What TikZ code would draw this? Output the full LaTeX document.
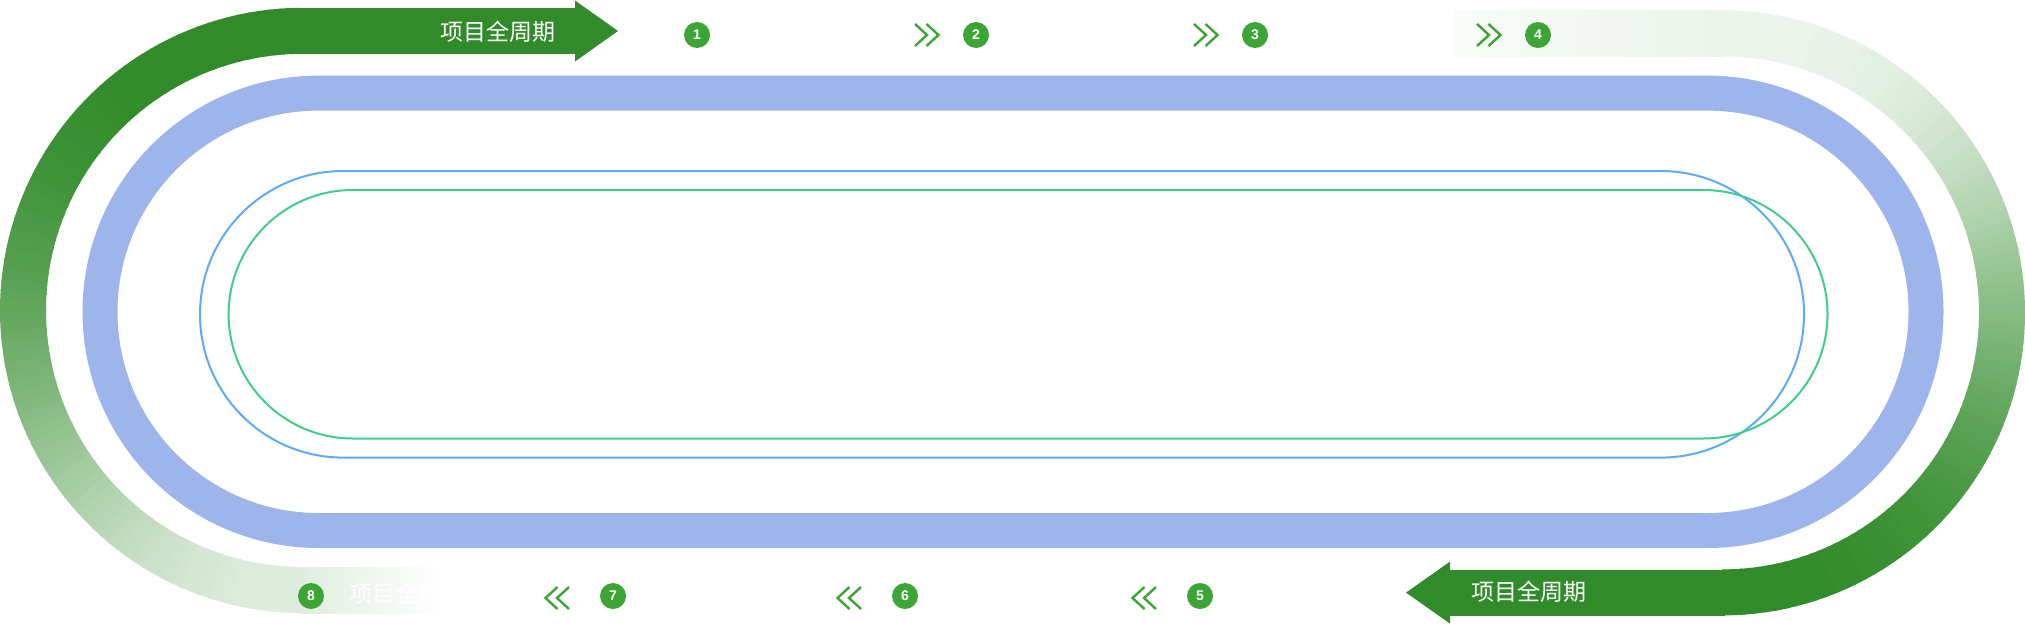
\documentclass[tikz,border=0pt]{standalone}
\usepackage{fontspec}
\setsansfont{Liberation Sans}
\newfontfamily\cjk{Noto Sans CJK SC}
\usetikzlibrary{positioning,calc}

\definecolor{gdark}{HTML}{318B2A}
\definecolor{gdot}{HTML}{3DA535}
\definecolor{bandblue}{HTML}{9DB5EA}
\definecolor{lineblue}{HTML}{5BABF5}
\definecolor{linegreen}{HTML}{41CC8B}

\tikzset{
  numdot/.style={circle, fill=gdot, text=white, inner sep=0pt, minimum size=26pt,
    font=\sffamily\bfseries\fontsize{14}{14}\selectfont},
  cyclelabel/.style={text=white, inner sep=0pt, font=\cjk\fontsize{23}{23}\selectfont},
  chev/.style={draw=gdot, line width=2.4pt},
  greenband/.style={line width=46pt},
}

\begin{document}
\begin{tikzpicture}[x=1pt,y=-1pt]
\useasboundingbox (0,0) rectangle (2025,624);

% blue track and the two thin loops
\draw[bandblue, line width=35pt, rounded corners=218.7pt] (100,93.1) rectangle (1926,530.5);
\draw[lineblue, line width=2pt, rounded corners=143.3pt] (200,171) rectangle (1804,457.6);
\draw[linegreen, line width=2pt, rounded corners=124.2pt] (228.6,190) rectangle (1827.5,438.5);

% left green band, solid at the top, fading out at the bottom
\fill[gdark] (300,7.8) rectangle (575,53.8);
\fill[gdark] (575,0.5) -- (618,31) -- (575,61.5) -- cycle;
\shade[left color=white!85!gdark, right color=white] (300,567) rectangle (445,613);
\foreach \s in {0,2,...,178} {
  \pgfmathtruncatemacro\w{85*((1-cos(\s+1))/2)^1.8}
  \draw[greenband, white!\w!gdark] (302.6,310.4) ++(270-\s:279.6)
    arc[start angle=270-\s, end angle=267.6-\s, radius=279.6];
}

% right green band, fading in at the top, solid at the bottom
\shade[left color=white!97!gdark, right color=white!90!gdark] (1453,10.2) rectangle (1725,56.2);
\fill[gdark] (1450,569.6) rectangle (1725,615.6);
\fill[gdark] (1450,561.6) -- (1406,592.6) -- (1450,623.6) -- cycle;
\foreach \s in {0,2,...,178} {
  \pgfmathtruncatemacro\w{90*((1-cos(min(\s+19,180)))/2)^1.8}
  \draw[greenband, white!\w!gdark] (1722.4,312.8) ++(90-\s:279.6)
    arc[start angle=90-\s, end angle=87.6-\s, radius=279.6];
}

% labels on the arrows
\node[cyclelabel] (lblTop) at (497.5,31.5) {项目全周期};
\node[cyclelabel] (lblRight) at (1529,592) {项目全周期};
\node[cyclelabel] (lblLeft) at (407,594) {项目全周期};

% numbered steps
\foreach \n/\x/\y in {1/697/35, 2/976/35, 3/1255/35, 4/1538/35,
                      5/1200/596, 6/905/596, 7/613/596, 8/311/596}
  \node[numdot] (n\n) at (\x,\y) {\n};

% chevrons
\foreach \n in {2,3,4}
  \foreach \dx in {-61,-49.5}
    \draw[chev] ($(n\n)+(\dx,-11)$) -- ++(12,11) -- ++(-12,11);
\foreach \n in {5,6,7}
  \foreach \dx in {-44,-55.5}
    \draw[chev] ($(n\n)+(\dx,-9)$) -- ++(-12,11) -- ++(12,11);
\end{tikzpicture}
\end{document}
